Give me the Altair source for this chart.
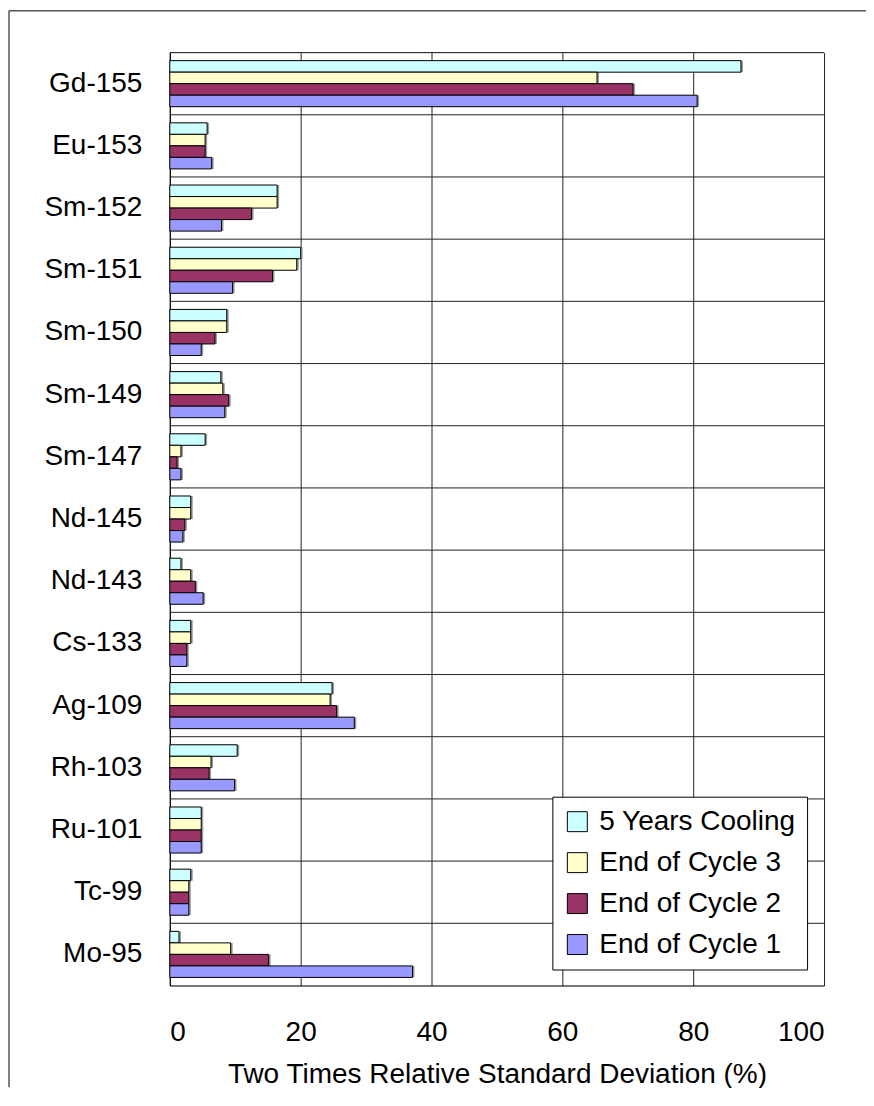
import altair as alt
import pandas as pd

isotopes = ["Gd-155", "Eu-153", "Sm-152", "Sm-151", "Sm-150", "Sm-149", "Sm-147",
            "Nd-145", "Nd-143", "Cs-133", "Ag-109", "Rh-103", "Ru-101", "Tc-99", "Mo-95"]
series_names = ["5 Years Cooling", "End of Cycle 3", "End of Cycle 2", "End of Cycle 1"]
colors = ["#CCFFFF", "#FFFFCC", "#993366", "#9999FF"]

cooling5 = [87.3, 5.7, 16.4, 20.0, 8.7, 7.8, 5.4, 3.2, 1.7, 3.2, 24.8, 10.3, 4.8, 3.2, 1.4]
cycle3 = [65.3, 5.4, 16.4, 19.4, 8.7, 8.1, 1.7, 3.2, 3.2, 3.2, 24.5, 6.3, 4.8, 2.9, 9.3]
cycle2 = [70.8, 5.4, 12.5, 15.7, 6.9, 9.0, 1.1, 2.3, 3.9, 2.6, 25.5, 6.0, 4.8, 2.9, 15.1]
cycle1 = [80.6, 6.4, 7.9, 9.6, 4.8, 8.4, 1.7, 2.0, 5.1, 2.6, 28.2, 9.9, 4.8, 2.9, 37.1]
x_ticks = [0, 20, 40, 60, 80, 100]

rows = []
for name, vals in zip(series_names, [cooling5, cycle3, cycle2, cycle1]):
    for iso, v in zip(isotopes, vals):
        rows.append({"isotope": iso, "series": name, "value": v})
df = pd.DataFrame(rows)
grid_df = pd.DataFrame({"isotope": isotopes})

W, H = 655, 934
PAD_B = 102
PAD_R = 42
FONT = "Liberation Sans"

# outer chart-area frame: only the left and top edges are visible in the reference
frame_left = alt.Chart(alt.Data(values=[{}])).mark_rule(
    color="#555555", strokeWidth=1.5
).encode(x=alt.value(-161), y=alt.value(-42), y2=alt.value(H + PAD_B))
frame_top = alt.Chart(alt.Data(values=[{}])).mark_rule(
    color="#555555", strokeWidth=1.5
).encode(x=alt.value(-161), x2=alt.value(W + PAD_R), y=alt.value(-42))

hgrid = alt.Chart(grid_df).mark_rule(color="#222222", strokeWidth=1).encode(
    y=alt.Y("isotope:N", sort=isotopes, bandPosition=0,
            scale=alt.Scale(paddingInner=0, paddingOuter=0)),
    x=alt.value(0), x2=alt.value(W),
)

x_enc = alt.X("value:Q",
              scale=alt.Scale(domain=[0, 100], nice=False),
              axis=alt.Axis(values=x_ticks, grid=True, gridColor="#222222", gridWidth=1,
                            ticks=False, labelPadding=33, labelFontSize=28,
                            labelColor="#000000", domainColor="#000000", domainWidth=1,
                            title="Two Times Relative Standard Deviation (%)",
                            titleFontSize=28, titleFontWeight="normal",
                            titleColor="#000000", titlePadding=14))
y_enc = alt.Y("isotope:N", sort=isotopes,
              scale=alt.Scale(paddingInner=0, paddingOuter=0),
              axis=alt.Axis(title=None, ticks=False, grid=False, labelPadding=28,
                            labelFontSize=28, labelColor="#000000",
                            domainColor="#000000", domainWidth=1))
yoff_enc = alt.YOffset("series:N", sort=series_names,
                       scale=alt.Scale(domain=series_names, paddingInner=0, paddingOuter=0.7))

shadow = alt.Chart(df).mark_bar(color="#9a9a9a", xOffset=2, yOffset=2).encode(
    x=x_enc, y=y_enc, yOffset=yoff_enc,
)

bars = alt.Chart(df).mark_bar(stroke="#000000", strokeWidth=1).encode(
    x=x_enc, y=y_enc, yOffset=yoff_enc,
    color=alt.Color("series:N", sort=series_names,
                    scale=alt.Scale(domain=series_names, range=colors),
                    legend=alt.Legend(orient="none", legendX=383, legendY=745, title=None,
                                      fillColor="#FFFFFF", strokeColor="#000000",
                                      padding=11, symbolType="square", symbolSize=400,
                                      symbolStrokeColor="#000000", symbolStrokeWidth=1,
                                      symbolOpacity=1,
                                      labelFontSize=28, labelColor="#000000",
                                      labelOffset=8, rowPadding=13, labelLimit=400)),
)

chart = alt.layer(frame_left, frame_top, hgrid, shadow, bars).properties(
    width=W, height=H,
    autosize=alt.AutoSizeParams(type="none"),
    padding={"left": 162, "top": 44, "right": PAD_R, "bottom": PAD_B},
).configure_view(stroke=None).configure(font=FONT)

chart.save("out.html", embed_options={"renderer": "svg", "actions": False})
